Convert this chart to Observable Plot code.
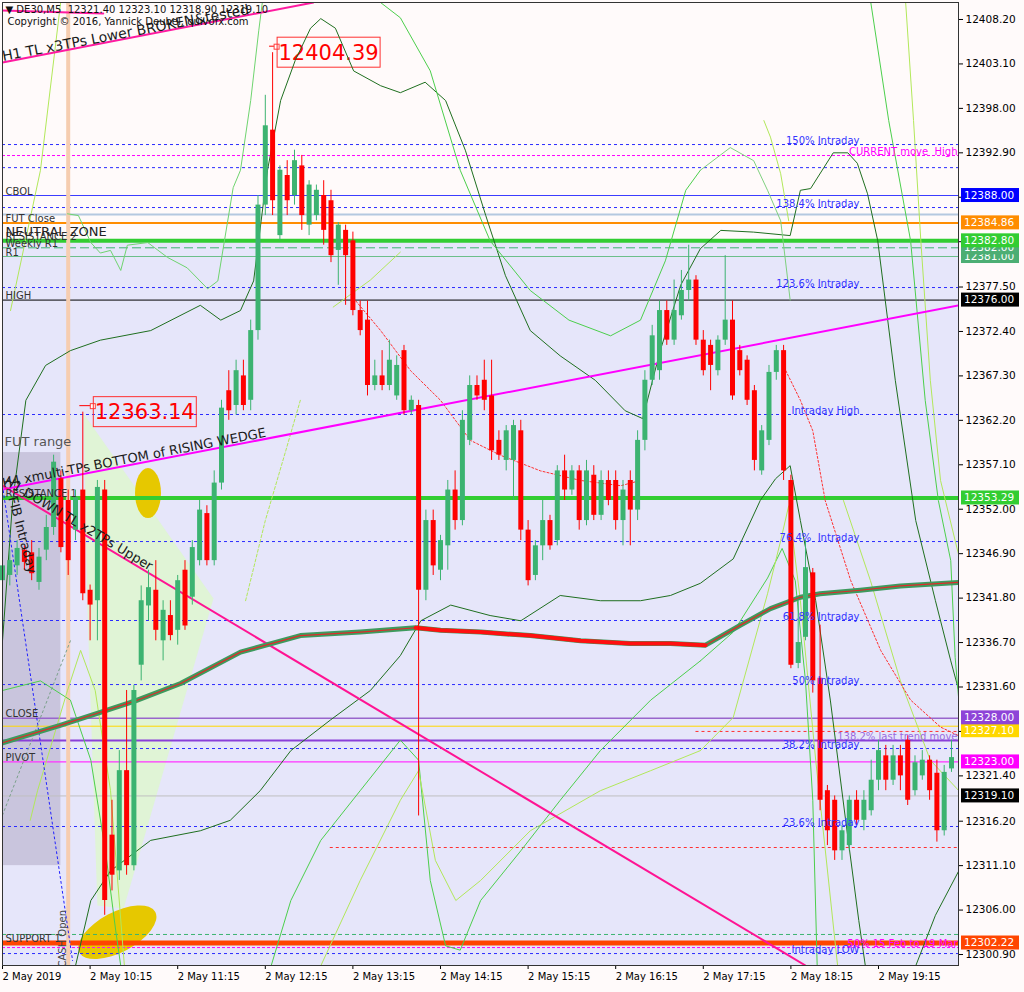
<!DOCTYPE html>
<html><head><meta charset="utf-8">
<script src="https://cdn.jsdelivr.net/npm/d3@7"></script>
<script src="https://cdn.jsdelivr.net/npm/@observablehq/plot@0.6"></script>
<style>html,body{margin:0;padding:0;background:#fffafa;}svg{display:block}</style>
</head><body><div id="c"></div>
<script>
// ---------------- DATA ----------------
// 5-minute bars from 2 May 2019 09:15
const opens = [12343.8,12344.4,12345.5,12347.3,12347.0,12343.6,12347.3,12349.9,12355.5,12353.0,
12349.6,12354.2,12342.7,12341.5,12354.2,12314.6,12310.5,12322.0,12311.1,12334.1,
12340.9,12342.7,12336.9,12339.8,12338.1,12345.0,12341.9,12346.1,12351.5,12346.1,
12355.0,12365.6,12363.9,12367.3,12364.5,12372.5,12386.9,12395.5,12383.4,12390.3,
12388.0,12391.4,12384.6,12385.7,12388.0,12387.4,12381.7,12384.0,12382.8,12374.8,
12373.7,12366.2,12367.3,12366.2,12365.0,12370.2,12363.3,12363.9,12342.7,12350.7,
12345.0,12347.8,12354.2,12350.7,12359.9,12366.2,12366.8,12365.0,12359.9,12357.6,
12357.6,12361.0,12349.6,12344.4,12347.8,12350.7,12348.4,12356.4,12354.2,12356.4,
12350.7,12355.9,12351.3,12355.3,12355.3,12350.7,12355.3,12351.9,12359.9,12366.8,
12367.9,12374.8,12371.4,12374.2,12377.1,12378.3,12371.4,12370.8,12367.9,12371.4,
12373.7,12370.2,12369.1,12365.6,12356.4,12359.9,12367.7,12370.2,12355.3,12334.3,
12337.3,12344.7,12332.6,12319.7,12318.6,12312.8,12313.4,12318.6,12316.3,12317.4,
12320.9,12323.7,12320.9,12323.7,12325.5,12319.7,12321.4,12323.2,12321.7,12315.1,
12322.2];
const highs = [12346.1,12347.3,12348.4,12347.8,12348.4,12347.5,12351.3,12358.2,12356.4,12354.2,
12354.2,12363.14,12343.3,12355.3,12355.3,12318.6,12324.3,12331.2,12331.8,12343.2,
12345.0,12346.1,12341.5,12341.5,12344.4,12346.1,12348.4,12353.0,12352.4,12356.4,
12364.5,12367.9,12369.1,12369.1,12373.7,12388.0,12399.5,12404.39,12391.4,12392.0,
12393.2,12392.6,12389.7,12389.2,12389.7,12388.6,12384.9,12384.6,12383.8,12375.9,
12375.9,12369.1,12370.2,12371.4,12369.6,12370.8,12365.0,12364.5,12351.9,12351.9,
12349.0,12355.3,12356.4,12363.3,12367.3,12367.3,12369.1,12369.1,12361.0,12361.6,
12362.2,12362.2,12350.7,12348.4,12353.0,12351.3,12357.0,12358.2,12357.0,12357.0,
12357.6,12357.0,12356.4,12356.4,12356.4,12355.3,12356.4,12361.0,12367.9,12373.1,
12375.9,12375.9,12378.3,12379.4,12382.3,12378.8,12372.5,12371.4,12371.9,12381.1,
12375.9,12370.8,12369.6,12366.2,12361.6,12368.5,12370.8,12370.8,12355.9,12341.5,
12348.4,12345.2,12338.7,12320.3,12319.1,12315.7,12319.1,12319.7,12319.7,12323.2,
12325.5,12324.9,12324.9,12324.9,12326.0,12323.7,12324.3,12323.7,12323.2,12322.6,
12325.5];
const lows = [12342.7,12343.2,12344.4,12345.0,12343.8,12342.7,12346.1,12349.0,12347.0,12344.4,
12348.4,12341.5,12336.9,12336.9,12305.4,12308.2,12309.4,12310.0,12310.5,12332.3,
12339.2,12336.9,12334.6,12336.9,12336.4,12338.1,12341.0,12345.5,12345.5,12345.5,
12354.2,12362.2,12362.8,12363.3,12363.3,12371.4,12385.7,12385.7,12382.8,12385.7,
12386.9,12384.0,12383.4,12385.1,12382.3,12380.3,12377.7,12375.4,12374.2,12371.9,
12365.0,12365.6,12365.6,12365.6,12364.5,12362.8,12362.8,12316.8,12341.5,12344.4,
12343.8,12345.0,12349.6,12350.1,12359.3,12364.5,12363.3,12357.6,12357.6,12356.4,
12353.0,12348.4,12343.2,12343.8,12346.1,12347.3,12347.8,12353.0,12353.6,12349.6,
12350.1,12350.7,12350.7,12352.4,12349.6,12347.8,12347.8,12350.7,12358.7,12366.2,
12366.8,12370.8,12370.8,12373.7,12375.9,12370.8,12367.3,12365.6,12367.3,12370.8,
12364.5,12367.3,12363.9,12356.4,12355.9,12359.3,12366.8,12355.3,12333.7,12333.7,
12336.9,12330.9,12317.4,12313.4,12311.7,12311.7,12312.8,12315.7,12315.1,12316.8,
12319.7,12319.7,12320.3,12319.7,12318.0,12319.1,12320.9,12318.6,12313.8,12314.5,
12321.8];
const closes = [12345.5,12346.1,12347.5,12345.9,12344.6,12346.5,12349.9,12357.4,12347.6,12346.1,
12353.3,12342.3,12341.0,12354.5,12307.1,12310.0,12322.0,12311.1,12331.2,12341.5,
12343.0,12338.1,12340.4,12337.5,12343.8,12338.6,12347.6,12351.9,12346.1,12355.0,
12363.6,12363.3,12367.9,12363.9,12372.5,12386.9,12396.0,12387.4,12390.9,12387.4,
12392.0,12385.7,12389.2,12388.6,12384.0,12381.1,12384.6,12381.1,12374.8,12372.5,
12366.2,12367.3,12366.2,12369.1,12368.5,12363.3,12364.5,12342.7,12350.7,12345.5,
12348.4,12354.2,12350.7,12362.2,12366.2,12365.0,12364.5,12358.7,12358.2,12361.0,
12361.6,12349.6,12343.8,12347.8,12350.7,12347.8,12356.4,12354.2,12356.4,12350.7,
12356.4,12351.3,12355.3,12353.0,12350.7,12354.2,12351.9,12359.9,12366.8,12371.9,
12374.8,12371.4,12374.8,12377.1,12378.3,12371.4,12367.9,12368.5,12371.4,12373.7,
12365.0,12367.9,12364.5,12357.6,12361.0,12367.7,12370.2,12356.4,12334.1,12336.7,
12345.3,12332.3,12318.6,12315.1,12312.8,12315.1,12318.6,12316.3,12318.6,12320.9,
12324.3,12320.9,12323.7,12321.4,12318.6,12322.9,12323.2,12319.7,12315.1,12321.8,
12323.5];

// axis ticks
const xTickBars = [0,12,24,36,48,60,72,84,96,108,120];
const xTickLabels = ["2 May 2019","2 May 10:15","2 May 11:15","2 May 12:15","2 May 13:15","2 May 14:15","2 May 15:15","2 May 16:15","2 May 17:15","2 May 18:15","2 May 19:15"];
const yTicks = [12408.2,12403.1,12398.0,12392.9,12387.8,12382.7,12377.5,12372.4,12367.3,12362.2,12357.1,12352.0,12346.9,12341.8,12336.7,12331.6,12326.5,12321.4,12316.2,12311.1,12306.0,12300.9];

// horizontal levels
const levelNames = ["150% Intraday","CURRENT move  High","Intraday ext","CBOL","138.4% Intraday","FUT Close","NEUTRAL ZONE","RESISTANCE 2","Weekly R1","R1","123.6% Intraday","HIGH","Intraday High","RESISTANCE 1","76.4%  Intraday","61.8% Intraday","50% Intraday","CLOSE","FUT Open","138.2% last trend move","38.2% Intraday","PIVOT","Bid","23.6% Intraday","Weekly S1","SUPPORT 1","50% 15 Feb to 19 Mar","Intraday LOW"];
const levelValues = [12393.85,12392.59,12391.20,12388.00,12386.62,12385.82,12384.86,12382.80,12382.00,12381.00,12377.44,12376.00,12362.87,12353.29,12348.29,12339.23,12331.88,12328.00,12327.10,12325.46,12324.54,12323.00,12319.10,12315.59,12303.20,12302.22,12301.70,12301.01];
const partialNames = ["last move A","last move B"];
const partialValues = [12326.50,12313.18];
const partialStartBars = [95,44.9];

// left-side labels
const leftLabels = ["CBOL","FUT Close","RESISTANCE 2","Weekly R1","R1","HIGH","RESISTANCE 1","CLOSE","PIVOT","SUPPORT 1"];
const leftLabelValues = [12388.00,12384.86,12382.80,12382.00,12381.00,12376.00,12353.29,12328.00,12323.00,12302.22];
const zoneLabel = "NEUTRAL ZONE", zoneValue = 12382.80;
// fib labels
const fibLabels = ["150% Intraday","138.4% Intraday","123.6% Intraday","Intraday High","76.4%  Intraday","61.8% Intraday","50% Intraday","38.2% Intraday","23.6% Intraday","Intraday LOW"];
const fibLabelValues = [12393.85,12386.62,12377.44,12362.87,12348.29,12339.23,12331.88,12324.54,12315.59,12301.01];
const edgeLabels = ["CURRENT move  High","138.2% last trend move","50% 15 Feb to 19 Mar"];
const edgeLabelValues = [12392.59,12325.46,12301.70];

// right price boxes
const boxValues = [12381.00,12382.00,12388.00,12384.86,12382.80,12376.00,12353.29,12327.10,12328.00,12323.00,12319.10,12302.22];

// moving average
const maBars = [0,7.9,13.4,18.2,24.4,32.6,40.8,49,56.6,60,65.5,72.3,79.2,86,91.5,96.3,101.1,105.2,109.3,112,117.5,123,131];
const maValues = [12325.2,12327.2,12328.7,12330.0,12332.0,12335.6,12337.5,12337.9,12338.4,12338.1,12337.9,12337.5,12336.9,12336.6,12336.6,12336.4,12338.7,12340.6,12341.9,12342.3,12342.7,12343.2,12343.6];

// bollinger (dark green)
const bbUpperBars = [0,1.4,3.2,5.9,9.3,13.4,20.3,27.1,29.9,32.6,34.4,36.3,38.1,40.1,42.2,43.6,45.6,48.1,51.8,54.5,57.9,60.7,63.4,66.2,68.9,72.3,76.4,81.2,85.3,87.7,90.1,92.9,95.6,98.4,102.9,107.9,109.3,110.7,113.8,115.8,117.1,118.5,119.9,122.3,125.1,127.8,129.9,131];
const bbUpperValues = [12336.9,12353.0,12364.5,12368.5,12370.2,12371.4,12372.5,12375.4,12373.7,12374.8,12378.2,12390.9,12398.9,12403.5,12407.2,12408.3,12407.2,12402.3,12400.6,12399.8,12401.0,12398.9,12393.2,12385.7,12378.8,12372.5,12369.6,12366.8,12363.3,12362.4,12370.2,12377.7,12381.9,12384.0,12383.8,12383.4,12388.6,12388.8,12392.9,12392.9,12391.7,12388.2,12382.8,12366.8,12350.7,12341.5,12334.6,12331.2];
const bbLowerBars = [10,12.1,14.8,20.3,27.1,31.2,35.3,39.5,44.9,50.4,54.5,57.3,61.4,66.8,71,76.4,81.9,87.4,91.5,95.6,100.1,103.8,105.9,107.9,109.3,111.4,113.4,115.5,117.3,118.2];
const bbLowerValues = [12299.6,12307.1,12310.5,12314.0,12315.1,12316.3,12319.7,12324.3,12327.8,12331.2,12335.2,12339.2,12341.0,12339.8,12339.2,12342.1,12341.5,12341.5,12342.1,12343.5,12346.3,12353.0,12355.5,12357.0,12350.7,12341.5,12330.1,12316.3,12304.8,12299.6];
const bbLower2Bars = [125.1,127.8,131];
const bbLower2Values = [12299.6,12305.4,12310.5];
// other bands (lime green and yellow-green)
const limeBars = [8.9,10.4,12.1,13.4,14.8,16.2,17.1,19.9,22.6,25.3,28.1,29.5,31.6,32.6,34,35.1,35.6];
const limeValues = [12385.9,12385.7,12382.6,12381.4,12381.7,12379.4,12382.3,12382.6,12380.9,12379.7,12377.3,12378.2,12388.9,12390.9,12398.9,12406.9,12410.2];
const limeUpMBars = [51.4,54.5,58.6,62.7,66.8,72.3,77.6,83.3,87.4,90.8,93.6,95.6];
const limeUpMValues = [12410.4,12408.4,12402.3,12390.9,12382.8,12377.1,12373.7,12371.9,12373.7,12380.5,12388.6,12390.9];
const limeRightBars = [118.9,121.4,124.4,126.4,128.2,129.9,130.5,131.0];
const limeRightValues = [12410.4,12396.6,12382.8,12364.5,12353.0,12346.1,12335.0,12330.1];
const limeLowLBars = [0,5.2,9.3,12.1,14.1,15.5,16.2];
const limeLowLValues = [12331.2,12332.3,12330.1,12323.2,12312.8,12303.7,12299.6];
const limeLowMBars = [36.8,39.5,43.6,49.0,54.5,57.0,58.6,60.7,62.7,65.5,71.0,76.4,81.9,88.8,95.6];
const limeLowMValues = [12299.6,12307.1,12314.0,12319.7,12325.5,12323.2,12309.4,12301.9,12301.4,12307.1,12312.8,12318.6,12324.3,12330.1,12334.6];
const limeLowRBars = [95.6,100.1,104.8,106.8,108.6,110.0,111.0,111.6];
const limeLowRValues = [12334.6,12337.9,12344.1,12347.5,12343.8,12332.3,12318.6,12299.6];
const ygBars = [1.1,5.2,8];
const ygValues = [12374.8,12390.9,12410.4];
const ygLeftBars = [3.8,4.8,8.9,10.7,12.7,14.8,16.7];
const ygLeftValues = [12316.3,12319.7,12331.2,12335.8,12331.2,12319.7,12299.6];
const ygLowMBars = [43.6,49.0,54.5,57.0,59.3,62.1,65.5,72.3,81.9,88.8,95.6];
const ygLowMValues = [12299.6,12309.4,12318.6,12322.0,12311.7,12307.1,12309.4,12315.1,12319.7,12322.0,12324.3];
const ygMidBars = [33.3,36.0,38.8,40.8];
const ygMidValues = [12341.5,12350.7,12358.7,12364.5];
const ygUpBars = [45.3,50.4,54.5];
const ygUpValues = [12375.2,12378.3,12381.5];
const ygTopBars = [104.3,105.2,106.6,107.7];
const ygTopValues = [12396.6,12394.7,12390.5,12385.1];
const ygRightBars = [123.7,124.8,125.8,127.1,128.5,130.5,131.0];
const ygRightValues = [12410.4,12396.6,12382.8,12366.8,12355.3,12348.4,12346.7];
const ygLowRBars = [95.6,100.1,104.8,106.6,107.7,109.3,111.4,114.4];
const ygLowRValues = [12324.3,12328.1,12342.3,12348.4,12352.4,12341.5,12323.2,12299.6];
const ygFallBars = [115.2,118.9,123.0,127.1,131.0];
const ygFallValues = [12353.0,12343.8,12332.3,12323.2,12319.7];
const lgTopBars = [95.6,99.7,102.9,104.8,106.6,107.9];
const lgTopValues = [12390.9,12393.5,12392.0,12388.6,12385.1,12376.0];
// red dotted signal lines
const sig1Bars = [48.4,51.8,55.9,60,64.1,68.2,73.7,79.2,84.7,87.4];
const sig1Values = [12375.9,12372.5,12367.9,12364.5,12359.9,12358.2,12356.4,12355.3,12354.7,12355.3];
const sig2Bars = [107.3,109.3,111,112.7,116.2,120.3,124.4,128.5,131];
const sig2Values = [12367.9,12364.5,12361.0,12353.0,12343.8,12335.8,12330.1,12327.0,12326.0];

// trend lines
const wedgeBars = [0,130.96], wedgeValues = [12354.26,12375.38];
const topTLBars = [0,42.6], topTLValues = [12403.26,12410.15];
const topSegBars = [0,13.8], topSegValues = [12409.23,12408.89];
const downTLBars = [0,110.0], downTLValues = [12354.7,12299.64];
const fibDotBars = [0,9.6], fibDotValues = [12354.7,12300.2];
const grayDotBars = [0,9.3], grayDotValues = [12316.9,12336.9];
// shapes
const futBox = {x1:-1, x2:8.0, y1:12311.1, y2:12358.5};
const greenPolyBars = [11.1,28.9,16.6,13.0,11.6];
const greenPolyValues = [12362.98,12341.75,12306.18,12306.52,12341.52];
const ellipseBars = [20,15.8], ellipseValues = [12353.8,12303.4];
const priceLabelBars = [37,11], priceLabelValues = [12404.39,12363.14];

// ---------------- BUILD ----------------
const pts = (b,v) => b.map((x,k)=>({i:x, v:v[k]}));
const bars = opens.map((o,i)=>({i,o,h:highs[i],l:lows[i],c:closes[i]}));
const bull = bars.filter(d=>d.c>=d.o), bear = bars.filter(d=>d.c<d.o);
const X0=0, X1=130.96, Y0=12299.64, Y1=12410.15;

const BLUE="#2b2bff", MAG="#ff00ff";
const lvlStyle = {
 "150% Intraday":[BLUE,1,"3,3"], "CURRENT move  High":[MAG,1,"3,2"], "Intraday ext":[BLUE,1,"3,3"],
 "CBOL":["#3c3cff",1.2,null], "138.4% Intraday":[BLUE,1,"3,3"], "FUT Close":["#b4c8e0",2,null],
 "NEUTRAL ZONE":["#ff8c00",2,null], "RESISTANCE 2":["#32cd32",4,null], "Weekly R1":["#3cb371",1,"9,4"],
 "R1":["#6cbf8a",1.2,null], "123.6% Intraday":[BLUE,1,"3,3"], "HIGH":["#000",1,null],
 "Intraday High":[BLUE,1,"3,3"], "RESISTANCE 1":["#32cd32",4,null], "76.4%  Intraday":[BLUE,1,"3,3"],
 "61.8% Intraday":[BLUE,1,"3,3"], "50% Intraday":[BLUE,1,"3,3"], "CLOSE":["#9966cc",1.5,null],
 "FUT Open":["#ffd700",1,null], "138.2% last trend move":["#8a3fd8",2,null], "38.2% Intraday":[BLUE,1,"3,3"],
 "PIVOT":["#ff33ff",1.2,null], "Bid":["#c0c0c0",1,null], "23.6% Intraday":[BLUE,1,"3,3"],
 "Weekly S1":["#3cb371",1,"4,3"], "SUPPORT 1":["#ff4500",5,null], "50% 15 Feb to 19 Mar":[MAG,1,"3,2"],
 "Intraday LOW":[BLUE,1,"3,3"]
};
const levels = levelNames.map((n,k)=>({name:n, v:levelValues[k]}));
const levelRules = levels.map(d=>{const s=lvlStyle[d.name]; return Plot.ruleY([d.v],{stroke:s[0],strokeWidth:s[1],strokeDasharray:s[2]||undefined});});
const partials = partialNames.map((n,k)=>({name:n, v:partialValues[k], x1:partialStartBars[k]}));
const boxColors = ["#4cae74","#4cae74","#0000ff","#ff8c00","#32cd32","#000000","#32cd32","#ffd700","#8e44d8","#ff00ff","#000000","#ff4500"];
const boxShift = [0,0,0,0,0,0,0,4.5,-0.5,0,0,0];
const leftData = leftLabels.map((t,k)=>({t, v:leftLabelValues[k]}));

const L = (b,v,stroke,extra={}) => Plot.line(pts(b,v),{x:"i",y:"v",stroke,strokeWidth:1,clip:true,...extra});
const LIME="#4ccf4c", YG="#b2e85a", DG="#1f6f1f";

const chart = Plot.plot({
  width:1024, height:992, marginLeft:2, marginRight:66, marginTop:2, marginBottom:27,
  x:{domain:[X0,X1], axis:null}, y:{domain:[Y0,Y1], axis:null},
  style:{background:"#fffafa", fontFamily:"DejaVu Sans", fontSize:"10px", color:"#000", overflow:"visible"},
  marks:[
    Plot.rect([0],{x1:X0,x2:X1,y1:Y0,y2:12382.8,fill:"#e6e6fa"}),
    Plot.rect([futBox],{x1:"x1",x2:"x2",y1:"y1",y2:"y2",fill:"#c9c5dd",clip:true}),
    Plot.line(pts(greenPolyBars,greenPolyValues),{x:"i",y:"v",fill:"#e0f4d6",stroke:"none"}),
    ...levelRules,
    Plot.ruleY(partials,{y:"v",x1:"x1",x2:X1,stroke:"#ff3030",strokeDasharray:"3,3"}),
    Plot.ruleX([9],{stroke:"#f6cdb0",strokeWidth:4}),
    // band lines
    L(bbUpperBars,bbUpperValues,DG),
    L(bbLowerBars,bbLowerValues,DG),
    L(bbLower2Bars,bbLower2Values,DG),
    L(limeBars,limeValues,"#6fd46f"),
    L(limeUpMBars,limeUpMValues,LIME),
    L(limeRightBars,limeRightValues,LIME),
    L(limeLowLBars,limeLowLValues,LIME),
    L(limeLowMBars,limeLowMValues,LIME),
    L(limeLowRBars,limeLowRValues,LIME),
    L(ygBars,ygValues,YG),
    L(ygLeftBars,ygLeftValues,YG),
    L(ygLowMBars,ygLowMValues,YG),
    L(ygMidBars,ygMidValues,YG,{strokeDasharray:"3,2"}),
    L(ygUpBars,ygUpValues,YG),
    L(ygTopBars,ygTopValues,YG),
    L(ygRightBars,ygRightValues,YG),
    L(ygLowRBars,ygLowRValues,YG),
    L(ygFallBars,ygFallValues,YG),
    L(lgTopBars,lgTopValues,"#7fd07f"),
    L(sig1Bars,sig1Values,"#ff3030",{strokeDasharray:"2,2"}),
    L(sig2Bars,sig2Values,"#ff3030",{strokeDasharray:"2,2"}),
    // trend lines
    L(wedgeBars,wedgeValues,"#ff00ff",{strokeWidth:2}),
    L(topTLBars,topTLValues,"#ff1aa0",{strokeWidth:2}),
    L(topSegBars,topSegValues,"#ff1aa0",{strokeWidth:2}),
    L(downTLBars,downTLValues,"#ff1493",{strokeWidth:2}),
    L(fibDotBars,fibDotValues,"#2020ff",{strokeDasharray:"2,3"}),
    L(grayDotBars,grayDotValues,"#7aa08a",{strokeDasharray:"2,3"}),
    // moving average
    L(maBars,maValues,"#3e9a5e",{strokeWidth:5}),
    L(maBars,maValues,"#e02a2a",{strokeWidth:1.2}),
    Plot.line(pts(maBars,maValues).filter(d=>d.i>=56.6&&d.i<=96.3),{x:"i",y:"v",stroke:"#ff1010",strokeWidth:4,clip:true}),
    // candles
    Plot.ruleX(bull,{x:"i",y1:"l",y2:"h",stroke:"#3cb371",strokeWidth:1}),
    Plot.ruleX(bear,{x:"i",y1:"l",y2:"h",stroke:"#ff0000",strokeWidth:1}),
    Plot.ruleX(bull,{x:"i",y1:"o",y2:"c",stroke:"#3cb371",strokeWidth:5}),
    Plot.ruleX(bear,{x:"i",y1:"o",y2:"c",stroke:"#ff0000",strokeWidth:5}),
    // texts
    Plot.text(leftData,{x:X0,y:"v",text:"t",dx:3,dy:-1,textAnchor:"start",lineAnchor:"bottom",fill:"#333",fontSize:10}),
    Plot.text([zoneLabel],{x:X0,y:zoneValue,dx:3,dy:-5,textAnchor:"start",lineAnchor:"bottom",fill:"#222",fontSize:13}),
    Plot.text(fibLabels.map((t,k)=>({t,v:fibLabelValues[k]})),{x:117.4,y:"v",text:"t",dy:-1,textAnchor:"end",lineAnchor:"bottom",fill:"#3535ff"}),
    Plot.text(edgeLabels.map((t,k)=>({t,v:edgeLabelValues[k]})),{x:X1,y:"v",text:"t",dx:-1,dy:-1,textAnchor:"end",lineAnchor:"bottom",fill:d=>d.t.startsWith("138")?"#9a6ae0":"#ff00ff"}),
    Plot.text(["FUT range"],{x:X0,y:12359.77,dx:2,textAnchor:"start",fontSize:13,fill:"#555"}),
    Plot.text(["H4 xmulti-TPs BOTTOM of RISING WEDGE"],{x:0.1,y:12354.27,rotate:-10.9,textAnchor:"start",lineAnchor:"bottom",dy:-2,fontSize:13,fill:"#1a1a1a"}),
    Plot.text(["H1 DOWN TL x2TPs Upper"],{x:0.1,y:12354.6,rotate:30.8,textAnchor:"start",lineAnchor:"bottom",dy:-3,fontSize:13,fill:"#1a1a1a"}),
    Plot.text(["H1 TL x3TPs Lower BROKEN&tested"],{x:0.1,y:12403.2,rotate:-10.8,textAnchor:"start",lineAnchor:"bottom",dy:-2,fontSize:14,fill:"#1a1a1a"}),
    Plot.text(["FIB Intraday"],{x:0.8,y:12353.3,rotate:75.4,textAnchor:"start",lineAnchor:"bottom",fontSize:13,fill:"#1a1a1a"}),
    Plot.text(["CASH Open"],{x:8.3,y:Y0,rotate:-90,textAnchor:"start",lineAnchor:"middle",dy:2,fontSize:10,fill:"#444",clip:true}),
    Plot.text(["▼ DE30,M5  12321.40 12323.10 12318.90 12319.10"],{frameAnchor:"top-left",dx:3,dy:3,lineAnchor:"top",fontSize:10,fill:"#111"}),
    Plot.text(["Copyright © 2016, Yannick Deubel, quivofx.com"],{frameAnchor:"top-left",dx:5,dy:15,lineAnchor:"top",fontSize:10,fill:"#111"}),
    // axes
    Plot.axisX({ticks:xTickBars,tickFormat:d=>xTickLabels[xTickBars.indexOf(d)],tickSize:4,tickPadding:3,textAnchor:"start",label:null,fontSize:10}),
    Plot.axisY({anchor:"right",ticks:yTicks,tickFormat:d=>d.toFixed(2),tickSize:4,tickPadding:3,label:null,fontSize:10.5}),
    Plot.frame({stroke:"#333"})
  ]
});
document.getElementById("c").append(chart);

// ---------- overlays using Plot's scales ----------
const sx = chart.scale("x"), sy = chart.scale("y");
const svg = d3.select(chart);
const firstRule = chart.querySelector('[aria-label="rule"]');
const under = svg.insert("g", () => firstRule);
const ell = [[13,25,0],[43,20,-28]];
ellipseBars.forEach((b,k)=>{
  const cx = sx.apply(b), cy = sy.apply(ellipseValues[k]);
  under.append("ellipse").attr("cx",cx).attr("cy",cy)
    .attr("rx",ell[k][0]).attr("ry",ell[k][1])
    .attr("transform",`rotate(${ell[k][2]},${cx},${cy})`)
    .attr("fill","#e6c800");
});
const cpId="frameclip";
svg.append("defs").append("clipPath").attr("id",cpId).append("rect")
  .attr("x",sx.apply(X0)).attr("y",sy.apply(Y1)).attr("width",sx.apply(X1)-sx.apply(X0)).attr("height",sy.apply(Y0)-sy.apply(Y1));
under.attr("clip-path",`url(#${cpId})`);
// price callouts (drawn beneath the band lines)
const lines = chart.querySelectorAll('[aria-label="line"]');
const beforeBands = svg.insert("g", () => lines[1]);
const offs = [5,11];
priceLabelBars.forEach((b,k)=>{
  const x = sx.apply(b), y = sy.apply(priceLabelValues[k]);
  beforeBands.append("line").attr("x1",x-3).attr("x2",x+offs[k]).attr("y1",y-6).attr("y2",y-6).attr("stroke","#ff0000");
  beforeBands.append("rect").attr("x",x+offs[k]-3).attr("y",y-8).attr("width",5).attr("height",5).attr("fill","#fff").attr("stroke","#ff4040");
  beforeBands.append("rect").attr("x",x+offs[k]).attr("y",y-15).attr("width",103).attr("height",30).attr("fill","none").attr("stroke","#ff3030");
  beforeBands.append("text").attr("x",x+offs[k]+51.5).attr("y",y).attr("dy","0.36em").attr("text-anchor","middle")
    .attr("fill","#ff0000").attr("font-size",21).attr("font-family","DejaVu Sans").text(priceLabelValues[k].toFixed(2));
});
// right price boxes
const bx = sx.apply(X1)+3;
const bg = svg.append("g");
boxValues.forEach((v,k)=>{
  const y = sy.apply(v) + boxShift[k];
  bg.append("rect").attr("x",bx).attr("y",y-7).attr("width",58).attr("height",14).attr("fill",boxColors[k]);
  bg.append("text").attr("x",bx+3).attr("y",y).attr("dy","0.36em").attr("text-anchor","start").attr("fill","#fff")
    .attr("font-size",10.5).attr("font-family","DejaVu Sans").text(v.toFixed(2));
});
</script></body></html>
